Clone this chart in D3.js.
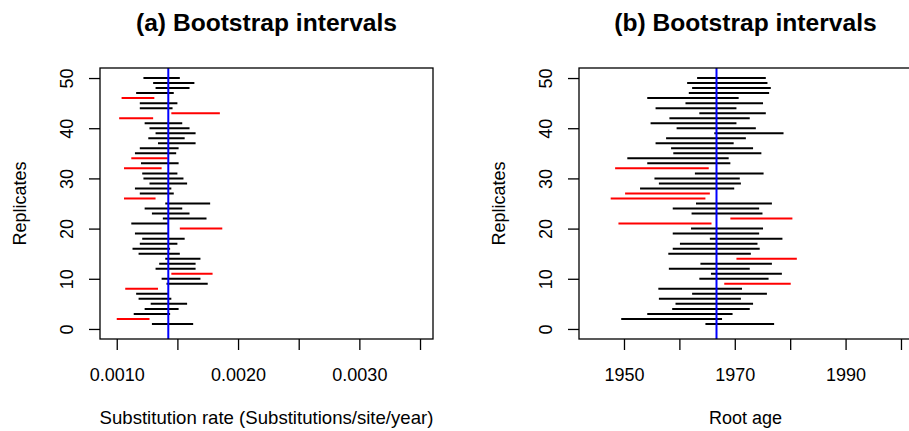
<!DOCTYPE html>
<html>
<head>
<meta charset="utf-8">
<script src="https://cdn.jsdelivr.net/npm/d3@7"></script>
<style>
  body { margin: 0; background: #fff; }
  text { font-family: "Liberation Sans", Arial, Helvetica, sans-serif; fill: #000; }
  .tick line { stroke: #000; stroke-width: 1.3; }
</style>
</head>
<body>
<svg width="909" height="431"></svg>
<script>
// replicate 1 .. 50, lower / upper bounds of each bootstrap interval
const rateLower = [0.00129, 0.00100, 0.00114, 0.00123, 0.00128, 0.00118, 0.00116, 0.00107, 0.00141, 0.00137,
                   0.00145, 0.00132, 0.00135, 0.00140, 0.00118, 0.00113, 0.00119, 0.00121, 0.00115, 0.00152,
                   0.00112, 0.00138, 0.00129, 0.00123, 0.00140, 0.00106, 0.00119, 0.00115, 0.00127, 0.00122,
                   0.00121, 0.00106, 0.00120, 0.00112, 0.00115, 0.00119, 0.00134, 0.00126, 0.00132, 0.00127,
                   0.00123, 0.00102, 0.00145, 0.00119, 0.00119, 0.00104, 0.00116, 0.00132, 0.00130, 0.00122];
const rateUpper = [0.00163, 0.00127, 0.00144, 0.00151, 0.00158, 0.00145, 0.00143, 0.00134, 0.00175, 0.00169,
                   0.00179, 0.00165, 0.00165, 0.00169, 0.00152, 0.00144, 0.00150, 0.00156, 0.00143, 0.00187,
                   0.00143, 0.00174, 0.00160, 0.00154, 0.00177, 0.00132, 0.00147, 0.00145, 0.00158, 0.00155,
                   0.00150, 0.00137, 0.00151, 0.00142, 0.00149, 0.00151, 0.00165, 0.00156, 0.00165, 0.00160,
                   0.00154, 0.00130, 0.00185, 0.00146, 0.00150, 0.00131, 0.00147, 0.00160, 0.00164, 0.00152];
const ageLower = [1964.7, 1949.5, 1954.2, 1958.7, 1959.3, 1956.3, 1962.3, 1956.2, 1968.1, 1963.6,
                  1965.7, 1958.1, 1963.8, 1970.3, 1958.0, 1958.8, 1960.1, 1965.5, 1958.8, 1962.1,
                  1949.0, 1969.2, 1962.2, 1958.8, 1963.0, 1947.6, 1950.2, 1952.9, 1956.3, 1955.5,
                  1962.8, 1948.4, 1954.2, 1950.6, 1958.9, 1958.5, 1955.7, 1957.6, 1966.3, 1959.5,
                  1954.8, 1958.2, 1963.6, 1955.7, 1961.1, 1954.2, 1961.7, 1962.3, 1961.4, 1963.2];
const ageUpper = [1977.1, 1967.7, 1969.6, 1972.7, 1973.3, 1971.1, 1975.8, 1971.3, 1980.1, 1976.1,
                  1978.5, 1972.7, 1976.7, 1981.2, 1972.9, 1974.5, 1974.1, 1978.6, 1974.4, 1975.1,
                  1965.8, 1980.4, 1975.0, 1974.4, 1976.7, 1964.7, 1965.5, 1969.9, 1971.1, 1970.9,
                  1975.2, 1965.3, 1969.2, 1968.9, 1974.8, 1973.3, 1969.8, 1972.0, 1978.8, 1973.8,
                  1970.3, 1972.7, 1975.6, 1970.3, 1975.1, 1970.7, 1976.2, 1976.5, 1975.9, 1975.6];

const trueRate = 0.001425;
const trueAge = 1966.7;

const rateTicks = [0.0010, 0.0015, 0.0020, 0.0025, 0.0030, 0.0035];
const rateLabels = ['0.0010', '', '0.0020', '', '0.0030', ''];
const ageTicks = [1950, 1960, 1970, 1980, 1990, 2000];
const ageLabels = ['1950', '', '1970', '', '1990', ''];
const yTicks = [0, 10, 20, 30, 40, 50];

const svg = d3.select('svg');
const plotTop = 68, plotBottom = 339;

const y = d3.scaleLinear().domain([-2, 52]).range([plotBottom, plotTop]);

function panel(opts) {
    const x = d3.scaleLinear().domain(opts.domain).range([opts.left, opts.right]);
    const g = svg.append('g');

    // intervals
    const rows = opts.lower.map((lo, i) => ({rep: i + 1, lo: lo, hi: opts.upper[i]}));
    g.selectAll('.interval').data(rows).enter().append('line')
        .attr('class', 'interval')
        .attr('x1', d => x(d.lo))
        .attr('x2', d => x(d.hi))
        .attr('y1', d => y(d.rep))
        .attr('y2', d => y(d.rep))
        .attr('stroke', d => (d.lo > opts.truth || d.hi < opts.truth) ? '#ff0000' : '#000')
        .attr('stroke-width', 2);

    // true value
    g.append('line')
        .attr('x1', x(opts.truth)).attr('x2', x(opts.truth))
        .attr('y1', plotTop).attr('y2', plotBottom)
        .attr('stroke', '#0000ff').attr('stroke-width', 2);

    // box
    g.append('rect')
        .attr('x', opts.left).attr('y', plotTop)
        .attr('width', opts.right - opts.left).attr('height', plotBottom - plotTop)
        .attr('fill', 'none').attr('stroke', '#000').attr('stroke-width', 1.3);

    // x axis
    const xa = g.append('g').attr('transform', `translate(0, ${plotBottom})`)
        .call(d3.axisBottom(x).tickValues(opts.ticks)
            .tickFormat((d, i) => opts.labels[i]).tickSize(11).tickPadding(18));
    xa.select('.domain').remove();
    xa.selectAll('text').style('font-size', '18px');

    // y axis, labels rotated as in R
    const ya = g.append('g').attr('transform', `translate(${opts.left}, 0)`)
        .call(d3.axisLeft(y).tickValues(yTicks).tickSize(11));
    ya.select('.domain').remove();
    ya.selectAll('text')
        .attr('transform', 'rotate(-90)')
        .attr('x', 0).attr('y', -27).attr('dy', 0)
        .style('text-anchor', 'middle')
        .style('font-size', '18px');

    // titles
    const cx = (opts.left + opts.right) / 2;
    g.append('text').attr('x', cx).attr('y', 31)
        .attr('text-anchor', 'middle')
        .style('font-size', '24.6px').style('font-weight', 'bold')
        .text(opts.title);
    g.append('text').attr('x', cx).attr('y', 424)
        .attr('text-anchor', 'middle').style('font-size', opts.xlabelSize)
        .text(opts.xlabel);
    g.append('text')
        .attr('transform', `translate(${opts.left - 74}, ${(plotTop + plotBottom) / 2}) rotate(-90)`)
        .attr('text-anchor', 'middle').style('font-size', '18px')
        .text('Replicates');
}

panel({
    left: 100, right: 433, domain: [0.000862, 0.003607],
    lower: rateLower, upper: rateUpper, truth: trueRate,
    ticks: rateTicks, labels: rateLabels,
    title: '(a) Bootstrap intervals',
    xlabel: 'Substitution rate (Substitutions/site/year)', xlabelSize: '18.6px'
});

panel({
    left: 579, right: 912, domain: [1941.88, 2001.99],
    lower: ageLower, upper: ageUpper, truth: trueAge,
    ticks: ageTicks, labels: ageLabels,
    title: '(b) Bootstrap intervals',
    xlabel: 'Root age', xlabelSize: '18px'
});
</script>
</body>
</html>
